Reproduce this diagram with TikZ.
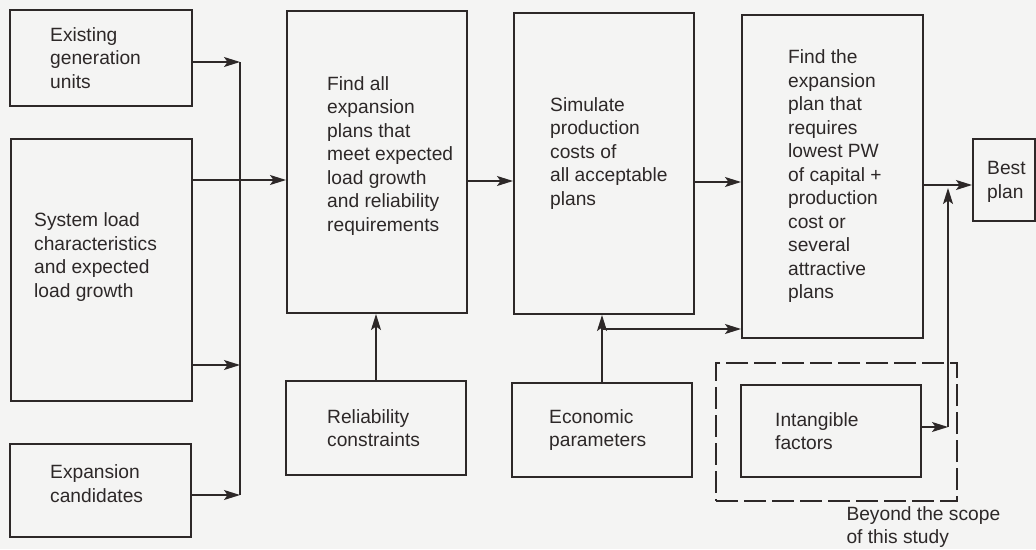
\documentclass[tikz,border=0pt]{standalone}
\usepackage{fontspec}
\setmainfont{Liberation Sans}
\definecolor{ink}{RGB}{45,40,40}
\definecolor{paper}{RGB}{244,244,243}
\usetikzlibrary{arrows.meta, positioning}

\begin{document}
\begin{tikzpicture}[
    x=1pt, y=-1pt,
    stepbox/.style={draw=ink, line width=2pt, inner sep=0pt},
    steptext/.style={text=ink, align=left, inner sep=0pt,
      font=\fontsize{19.2pt}{23.5pt}\selectfont},
    outsidebox/.style={draw=ink, line width=1.4pt, dash pattern=on 22pt off 6pt},
    link/.style={draw=ink, line width=1.3pt, -{Stealth[length=16pt, width=10pt, inset=3.5pt]}},
    wire/.style={draw=ink, line width=1.3pt},
  ]
    \fill[paper] (0,0) rectangle (1036,549);
    \useasboundingbox (0,0) rectangle (1036,549);

    \node[stepbox, minimum width=182pt, minimum height=96pt] (exist) at (101,58) {};
    \node[stepbox, minimum width=181pt, minimum height=262pt] (load) at (101.5,270) {};
    \node[stepbox, minimum width=181pt, minimum height=93pt] (cand) at (100.5,490.5) {};
    \node[stepbox, minimum width=180pt, minimum height=302pt] (find) at (377,162) {};
    \node[stepbox, minimum width=180pt, minimum height=94pt] (rel) at (376,428) {};
    \node[stepbox, minimum width=180pt, minimum height=301pt] (sim) at (604,163.5) {};
    \node[stepbox, minimum width=180pt, minimum height=94pt] (econ) at (602,430) {};
    \node[stepbox, minimum width=181pt, minimum height=323pt] (pick) at (832.5,176.5) {};
    \node[stepbox, minimum width=62pt, minimum height=82pt] (best) at (1004,180) {};
    \node[stepbox, minimum width=180pt, minimum height=92pt] (intang) at (831,431) {};
    \node[outsidebox, minimum width=241pt, minimum height=138pt] (outside) at (836.5,432) {};

    \node[steptext, right=41pt of exist.west] (exist-t) {Existing\\generation\\units};
    \node[steptext, right=24pt of load.west, yshift=13pt] (load-t) {System load\\characteristics\\and expected\\load growth};
    \node[steptext, right=41pt of cand.west, yshift=7pt] (cand-t) {Expansion\\candidates};
    \node[steptext, right=41pt of find.west, yshift=6pt] (find-t) {Find all\\expansion\\plans that\\meet expected\\load growth\\and reliability\\requirements};
    \node[steptext, right=42pt of rel.west] (rel-t) {Reliability\\constraints};
    \node[steptext, right=37pt of sim.west, yshift=10pt] (sim-t) {Simulate\\production\\costs of\\all acceptable\\plans};
    \node[steptext, right=38pt of econ.west] (econ-t) {Economic\\parameters};
    \node[steptext, right=47pt of pick.west] (pick-t) {Find the\\expansion\\plan that\\requires\\lowest PW\\of capital +\\production\\cost or\\several\\attractive\\plans};
    \node[steptext, right=15pt of best.west, yshift=-2pt] (best-t) {Best\\plan};
    \node[steptext, right=35pt of intang.west] (intang-t) {Intangible\\factors};
    \node[steptext, font=\fontsize{19.2pt}{22.5pt}\selectfont,
      below right=5pt and 131pt of outside.south west] (note) {Beyond the scope\\of this study};

    \coordinate (bustop) at (240,62);
    \coordinate (busbot) at (240,495);
    \draw[wire] (bustop) -- (busbot);
    \draw[link] (exist.east |- bustop) -- (bustop);
    \draw[link] (load.east |- 0,365) -- (bustop |- 0,365);
    \draw[link] (cand.east |- busbot) -- (busbot);
    \draw[link] (load.east |- 0,180) -- (find.west |- 0,180);

    \draw[link] (rel.north) -- (rel.north |- find.south);
    \draw[link] (find.east |- 0,181) -- (sim.west |- 0,181);

    \coordinate (split) at (econ.north |- 0,329);
    \draw[link] (econ.north) -- (econ.north |- sim.south);
    \draw[link] (split) -- (pick.west |- split);
    \draw[link] (sim.east |- 0,182) -- (pick.west |- 0,182);

    \draw[link] (pick.east |- 0,185) -- (best.west |- 0,185);
    \coordinate (merge) at (948,427);
    \draw[link] (intang.east |- merge) -- (merge);
    \draw[link] (merge) -- (merge |- 0,188);
  \end{tikzpicture}
\end{document}
